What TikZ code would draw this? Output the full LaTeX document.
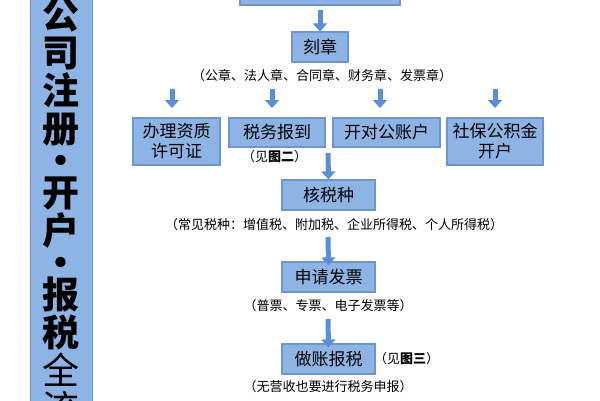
\documentclass[tikz,border=0pt]{standalone}
\usepackage{fontspec}
\setmainfont{Noto Sans CJK SC}
\usetikzlibrary{arrows.meta}
\definecolor{boxfill}{HTML}{8EB4E6}
\definecolor{boxline}{HTML}{6F95CC}
\definecolor{arr}{HTML}{5A8ED8}
\begin{document}
\begin{tikzpicture}[x=1pt,y=-1pt,
  box/.style={draw=boxline,line width=1.2pt,fill=boxfill,align=center,inner sep=0pt,font=\fontsize{17}{20}\selectfont},
  captext/.style={font=\fontsize{13}{15}\selectfont,inner sep=0pt},
  barrow/.style={draw=arr,line width=5pt,-{Triangle[width=14pt,length=8pt]}}]
\useasboundingbox (0,0) rectangle (600,400);
\clip (0,0) rectangle (600,400);
% left bar
\fill[boxfill] (30,-5) rectangle (92,405);
\draw[boxline,line width=1pt] (30,-5) rectangle (92,405);
\node[font=\fontsize{37}{40}\selectfont\bfseries,align=center,anchor=north] (title) at (61,-6)
 {公\\[-2pt]司\\[-2pt]注\\[-2pt]册\\[-8pt]·\\[-8pt]开\\[-2pt]户\\[-8pt]·\\[-8pt]报\\[-2pt]税\\[-2pt]{\mdseries 全}\\[-2pt]{\mdseries 流}};
% boxes
\node[box,minimum width=160pt,minimum height=30pt] (top) at (320,-10) {};
\node[box,minimum width=56pt,minimum height=30pt] (kz) at (320,47) {刻章};
\node[captext] (c1) at (322,76) {（公章、法人章、合同章、财务章、发票章）};
\node[box,minimum width=87pt,minimum height=47pt] (b1) at (176.5,141.5) {办理资质\\许可证};
\node[box,minimum width=96pt,minimum height=29pt] (b2) at (277,132.5) {税务报到};
\node[box,minimum width=107pt,minimum height=29pt] (b3) at (386.5,132.5) {开对公账户};
\node[box,minimum width=96pt,minimum height=47pt] (b4) at (495,141.5) {社保公积金\\开户};
\node[captext,anchor=west] (j2) at (242,157) {（见\textbf{图二}）};
\node[box,minimum width=93pt,minimum height=30pt] (hs) at (328.5,195) {核税种};
\node[captext] (c2) at (334,225) {（常见税种：增值税、附加税、企业所得税、个人所得税）};
\node[box,minimum width=93pt,minimum height=30pt] (sq) at (328.5,277) {申请发票};
\node[captext] (c3) at (328,306) {（普票、专票、电子发票等）};
\node[box,minimum width=93pt,minimum height=30pt] (zz) at (328.5,359) {做账报税};
\node[captext,anchor=west] (j3) at (374,359) {（见\textbf{图三}）};
\node[captext] (c4) at (328,387) {（无营收也要进行税务申报）};
% arrows
\coordinate (a0) at (320,10);
\draw[barrow] (a0) -- (kz.north);
\foreach \x/\n in {172/b1,272/b2,380/b3,495/b4}{
  \coordinate (s\n) at (\x,89);
  \coordinate (e\n) at (\x,108);
  \draw[barrow] (s\n) -- (e\n);}
\coordinate (a1) at (328,153);
\draw[barrow] (a1) -- (hs.north);
\coordinate (a2) at (328,237);
\draw[barrow] (a2) -- ([yshift=-4pt]sq.north);
\coordinate (a3) at (328,319);
\draw[barrow] (a3) -- ([yshift=-4pt]zz.north);
\end{tikzpicture}
\end{document}
